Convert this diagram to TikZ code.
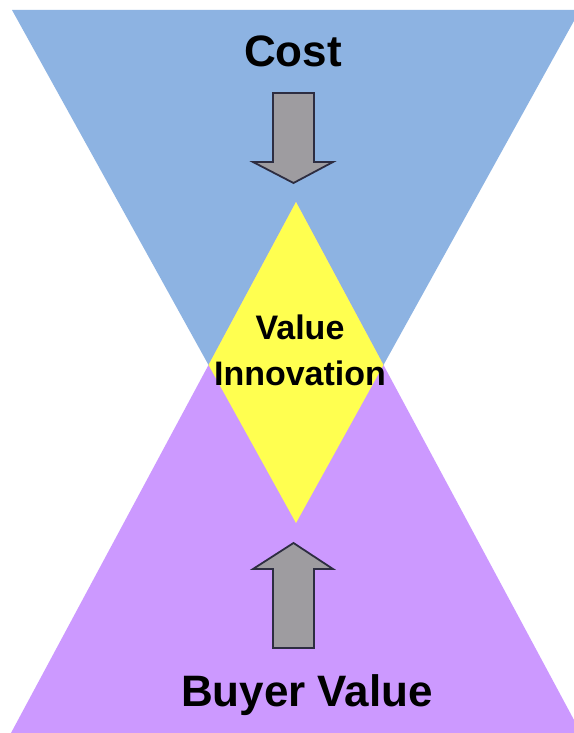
\documentclass[tikz,border=0pt]{standalone}
\usepackage{fontspec}
\setmainfont{Liberation Sans}
\usetikzlibrary{positioning}
\definecolor{costblue}{RGB}{141,179,226}
\definecolor{buyerviolet}{RGB}{204,153,255}
\definecolor{innoyellow}{RGB}{255,255,80}
\definecolor{arrowgray}{RGB}{158,156,160}
\definecolor{arrowline}{RGB}{45,45,65}

\tikzset{
  lbl/.style={inner sep=0pt, font=\bfseries, text=black},
  blockarrow/.style={fill=arrowgray, draw=arrowline, line width=1.8pt, line join=miter}
}

\begin{document}
\begin{tikzpicture}[x=1pt, y=-1pt]
    \fill[white] (0,0) rectangle (573,733);
    \useasboundingbox (0,0) rectangle (573,733);

    % the two triangles and their overlap
    \fill[costblue] (12,10) -- (580,10) -- (296,523) -- cycle;
    \fill[buyerviolet] (11,733) -- (581,733) -- (296,202) -- cycle;
    \begin{scope}
        \clip (12,10) -- (580,10) -- (296,523) -- cycle;
        \fill[innoyellow] (11,733) -- (581,733) -- (296,202) -- cycle;
    \end{scope}

    % arrows
    \draw[blockarrow] (273,93) -- (314,93) -- (314,162) -- (333,162) -- (293.5,183) -- (253,162) -- (273,162) -- cycle;
    \draw[blockarrow] (273,648) -- (314,648) -- (314,569) -- (333,569) -- (293.5,543) -- (253,569) -- (273,569) -- cycle;

    % labels
    \node[lbl, anchor=base, font=\bfseries\fontsize{44}{50}\selectfont] (cost) at (293,67) {Cost};
    \node[lbl, anchor=base, font=\bfseries\fontsize{34}{46}\selectfont, align=center] (inno) at (300,385) {Value\\Innovation};
    \node[lbl, anchor=base, font=\bfseries\fontsize{44}{50}\selectfont] (buyer) at (307,706) {Buyer Value};
\end{tikzpicture}
\end{document}
